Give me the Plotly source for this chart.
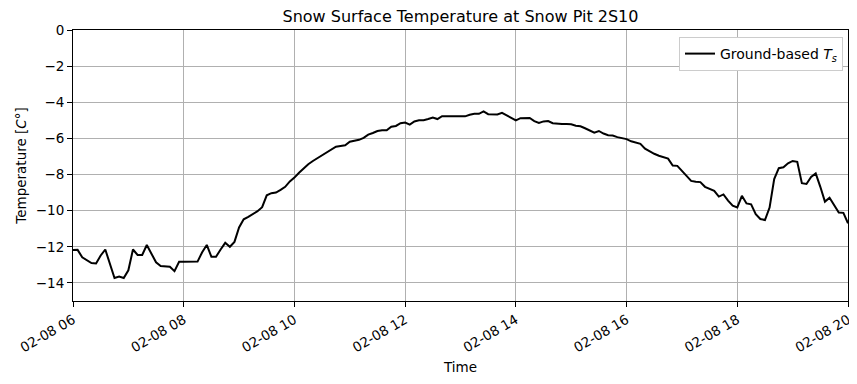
import pandas as pd
import plotly.graph_objects as go

start_time = "2023-02-08 06:00"
end_time = "2023-02-08 20:00"
step = "5min"

temperature = [
    -12.18, -12.17, -12.58, -12.75, -12.90, -12.92, -12.48, -12.15, -12.97, -13.73,
    -13.65, -13.73, -13.30, -12.15, -12.45, -12.45, -11.90, -12.40, -12.86, -13.06,
    -13.10, -13.10, -13.35, -12.83, -12.83, -12.83, -12.86, -12.82, -12.30, -11.90,
    -12.55, -12.55, -12.15, -11.78, -12.00, -11.73, -10.93, -10.48, -10.34, -10.20,
    -10.03, -9.81, -9.15, -9.03, -9.00, -8.85, -8.68, -8.38, -8.17, -7.90,
    -7.66, -7.43, -7.25, -7.09, -6.93, -6.78, -6.60, -6.46, -6.42, -6.38,
    -6.18, -6.13, -6.08, -5.97, -5.79, -5.70, -5.59, -5.55, -5.55, -5.35,
    -5.31, -5.16, -5.12, -5.24, -5.06, -5.00, -5.00, -4.93, -4.85, -4.93,
    -4.77, -4.77, -4.77, -4.76, -4.75, -4.78, -4.69, -4.64, -4.64, -4.51,
    -4.66, -4.65, -4.68, -4.58, -4.73, -4.86, -5.00, -4.88, -4.88, -4.87,
    -5.04, -5.14, -5.06, -5.04, -5.16, -5.20, -5.20, -5.20, -5.22, -5.30,
    -5.33, -5.44, -5.54, -5.68, -5.59, -5.73, -5.82, -5.84, -5.93, -6.00,
    -6.04, -6.16, -6.22, -6.30, -6.57, -6.72, -6.85, -6.96, -7.04, -7.12,
    -7.50, -7.52, -7.80, -8.08, -8.35, -8.40, -8.42, -8.68, -8.77, -8.90,
    -9.22, -9.10, -9.44, -9.72, -9.82, -9.18, -9.60, -9.65, -10.19, -10.46,
    -10.52, -9.83, -8.25, -7.65, -7.60, -7.38, -7.25, -7.30, -8.48, -8.52,
    -8.13, -7.94, -8.68, -9.50, -9.28, -9.68, -10.10, -10.12, -10.70,
]

y_ticks = [0, -2, -4, -6, -8, -10, -12, -14]

times = pd.date_range(start_time, end_time, freq=step)

font = "DejaVu Sans"

# The page body has a default 8px margin, so the figure is sized to fit
# inside the 857x384 window after that offset.
W, H = 849, 376
ML, MR, MT, MB = 65, 9, 22, 83
plot_w = W - ML - MR
plot_h = H - MT - MB

fig = go.Figure()
fig.add_trace(go.Scatter(
    x=times, y=temperature, mode="lines",
    line=dict(color="black", width=2),
    name="Ground-based <i>T</i><sub><i>s</i></sub>",
))

axis_common = dict(
    showline=True, linecolor="black", linewidth=1, mirror=True,
    ticks="outside", ticklen=5, tickwidth=1, tickcolor="black",
    showgrid=True, gridcolor="#b0b0b0", gridwidth=1,
    zeroline=False, automargin=False,
    tickfont=dict(family=font, size=13.5, color="black"),
)

fig.update_layout(
    width=W, height=H,
    margin=dict(l=ML, r=MR, t=MT, b=MB, pad=0),
    paper_bgcolor="white", plot_bgcolor="white",
    font=dict(family=font, color="black"),
    title=dict(text="Snow Surface Temperature at Snow Pit 2S10",
               x=(ML + plot_w / 2) / W, xanchor="center",
               y=1 - 8 / H, yanchor="middle",
               font=dict(family=font, size=16, color="black")),
    showlegend=True,
    legend=dict(x=1 - 5 / plot_w, xanchor="right", y=1 - 7 / plot_h, yanchor="top",
                bgcolor="white", bordercolor="#cccccc", borderwidth=1,
                font=dict(family=font, size=14, color="black")),
    xaxis=dict(**axis_common, range=[start_time, end_time],
               tick0=start_time, dtick=2 * 3600 * 1000,
               tickformat="%m-%d %H", tickangle=-30,
               title=dict(text="Time", font=dict(family=font, size=13.5), standoff=8)),
    yaxis=dict(**axis_common, range=[-15, 0], tickvals=y_ticks,
               title=dict(text="Temperature [<i>C</i>°]", font=dict(family=font, size=13.5), standoff=6)),
)

fig.write_html("out.html")
